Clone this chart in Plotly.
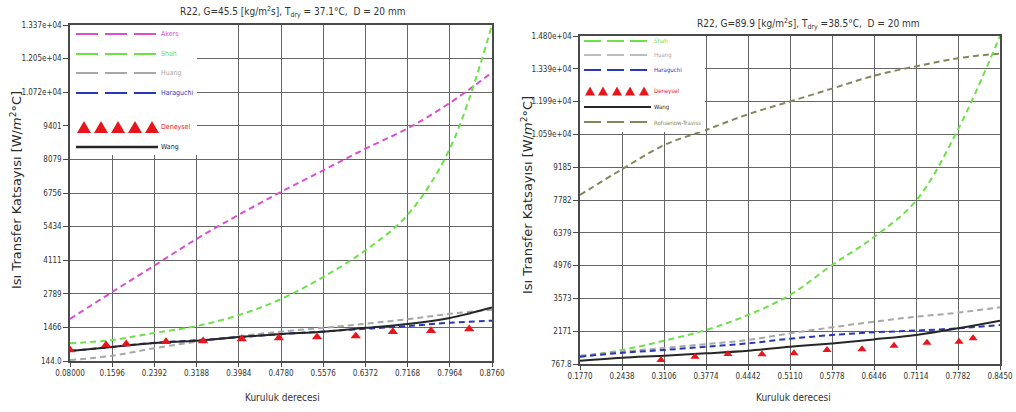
import plotly.graph_objects as go

# ---------------- Left panel: G = 45.5 ----------------
x_left = [0.08, 0.1596, 0.2392, 0.3188, 0.3984, 0.478, 0.5576, 0.6372, 0.7168, 0.7964, 0.876]
akers_left = [1800, 2860, 3900, 4950, 5900, 6800, 7650, 8500, 9300, 10300, 11500]
shah_left = [840, 970, 1250, 1520, 1950, 2580, 3450, 4500, 5900, 8500, 13370]
huang_left = [180, 350, 650, 900, 1120, 1300, 1450, 1610, 1790, 2000, 2160]
haraguchi_left = [540, 700, 860, 960, 1080, 1200, 1310, 1410, 1520, 1650, 1730]
wang_left = [540, 695, 850, 945, 1090, 1207, 1300, 1450, 1600, 1840, 2250]
exp_x_left = [0.080, 0.148, 0.186, 0.261, 0.331, 0.404, 0.474, 0.546, 0.619, 0.689, 0.761, 0.833]
exp_y_left = [577, 774, 813, 904, 930, 1010, 1049, 1088, 1128, 1300, 1337, 1403]
yticks_left = [144.0, 1466, 2789, 4111, 5434, 6756, 8079, 9401, 10720, 12050, 13370]
ytext_left = ["144.0", "1466", "2789", "4111", "5434", "6756", "8079", "9401",
              "1.072e+04", "1.205e+04", "1.337e+04"]
xtext_left = ["0.08000", "0.1596", "0.2392", "0.3188", "0.3984", "0.4780",
              "0.5576", "0.6372", "0.7168", "0.7964", "0.8760"]

# ---------------- Right panel: G = 89.9 ----------------
x_right = [0.177, 0.2438, 0.3106, 0.3774, 0.4442, 0.511, 0.5778, 0.6446, 0.7114, 0.7782, 0.845]
shah_right = [1080, 1366, 1765, 2222, 2863, 3720, 5000, 6200, 7750, 10800, 14800]
huang_right = [1123, 1300, 1450, 1620, 1794, 2080, 2337, 2577, 2790, 2962, 3193]
haraguchi_right = [1080, 1250, 1366, 1508, 1650, 1850, 2007, 2122, 2200, 2293, 2435]
wang_right = [910, 1038, 1123, 1225, 1336, 1508, 1650, 1820, 2007, 2293, 2620]
traviss_right = [8000, 9100, 10130, 10780, 11450, 12000, 12550, 13100, 13500, 13850, 14050]
exp_x_right = [0.3058, 0.3599, 0.4124, 0.4665, 0.5174, 0.5699, 0.6255, 0.6764, 0.7289, 0.7798, 0.8021]
exp_y_right = [939, 1080, 1195, 1190, 1225, 1366, 1396, 1550, 1679, 1722, 1866]
yticks_right = [767.8, 2171, 3573, 4976, 6379, 7782, 9185, 10590, 11990, 13390, 14800]
ytext_right = ["767.8", "2171", "3573", "4976", "6379", "7782", "9185",
               "1.059e+04", "1.199e+04", "1.339e+04", "1.480e+04"]
xtext_right = ["0.1770", "0.2438", "0.3106", "0.3774", "0.4442", "0.5110",
               "0.5778", "0.6446", "0.7114", "0.7782", "0.8450"]

C_AKERS = "#d94fd0"
C_SHAH = "#6ee04a"
C_HUANG = "#a8a8a8"
C_HARA = "#2a36b8"
C_WANG = "#262626"
C_EXP = "#e8161c"
C_TRAV = "#86865a"

NARROW = "DejaVu Sans Condensed, Liberation Sans Narrow, sans-serif"
W, H = 1016, 412

fig = go.Figure()


def curve(x, y, color, xa, ya, width=2.0, dash="6px,4px"):
    fig.add_trace(go.Scatter(x=x, y=y, mode="lines", xaxis=xa, yaxis=ya,
                             line=dict(color=color, width=width, dash=dash, shape="spline"),
                             showlegend=False, hoverinfo="skip"))


# left panel curves
curve(x_left, akers_left, C_AKERS, "x", "y")
curve(x_left, shah_left, C_SHAH, "x", "y")
curve(x_left, huang_left, C_HUANG, "x", "y")
curve(x_left, haraguchi_left, C_HARA, "x", "y")
curve(x_left, wang_left, C_WANG, "x", "y", dash="solid")
fig.add_trace(go.Scatter(x=exp_x_left, y=exp_y_left, mode="markers", xaxis="x", yaxis="y",
                         marker=dict(symbol="triangle-up", size=9, color=C_EXP),
                         showlegend=False, hoverinfo="skip"))

# right panel curves
curve(x_right, traviss_right, C_TRAV, "x2", "y2")
curve(x_right, shah_right, C_SHAH, "x2", "y2")
curve(x_right, huang_right, C_HUANG, "x2", "y2")
curve(x_right, haraguchi_right, C_HARA, "x2", "y2")
curve(x_right, wang_right, C_WANG, "x2", "y2", dash="solid")
fig.add_trace(go.Scatter(x=exp_x_right, y=exp_y_right, mode="markers", xaxis="x2", yaxis="y2",
                         marker=dict(symbol="triangle-up", size=8, color=C_EXP),
                         showlegend=False, hoverinfo="skip"))

# pixel boxes (x0, x1, top, bottom) of the two plot areas
L_BOX = (70, 492, 25, 361)
R_BOX = (580, 1000, 36, 364)


def xdom(b):
    return [b[0] / W, b[1] / W]


def ydom(b):
    return [1 - b[3] / H, 1 - b[2] / H]


def axis_common(ticks, text, ticklen):
    return dict(range=[ticks[0], ticks[-1]], tickmode="array", tickvals=ticks,
                ticktext=text, showgrid=True, gridcolor="#666666", gridwidth=1.4,
                zeroline=False, showline=True, linecolor="#4a4a4a", linewidth=1.5,
                mirror=True, ticks="outside", ticklen=ticklen, tickcolor="#4a4a4a",
                automargin=False, tickfont=dict(family=NARROW, size=8, color="#333"))


fig.update_layout(
    width=W, height=H, margin=dict(l=0, r=0, t=0, b=0, autoexpand=False),
    paper_bgcolor="white", plot_bgcolor="white", showlegend=False,
    xaxis=dict(axis_common(x_left, xtext_left, 4), domain=xdom(L_BOX), anchor="y"),
    yaxis=dict(axis_common(yticks_left, ytext_left, 5), domain=ydom(L_BOX), anchor="x"),
    xaxis2=dict(axis_common(x_right, xtext_right, 4), domain=xdom(R_BOX), anchor="y2"),
    yaxis2=dict(axis_common(yticks_right, ytext_right, 5), domain=ydom(R_BOX), anchor="x2"),
)

shapes = []
annotations = []


def text(x, y, s, size, color="#333", family=NARROW, xref="paper", yref="paper",
         xanchor="center", angle=0):
    annotations.append(dict(xref=xref, yref=yref, x=x, y=y, text=s, showarrow=False,
                            xanchor=xanchor, yanchor="middle", textangle=angle,
                            font=dict(family=family, size=size, color=color)))


def legend(box, xa, ya, entries, x0, x1, tx, box_w, box_h, dash, fsize, tri_xs, tri_w, tri_h):
    bx0, bx1, by0, by1 = box
    pw, ph = bx1 - bx0, by1 - by0
    dx = lambda px: (px - bx0) / pw
    dy = lambda py: (by1 - py) / ph
    xr, yr = f"{xa} domain", f"{ya} domain"
    shapes.append(dict(type="rect", xref=xr, yref=yr, x0=0, x1=dx(bx0 + box_w),
                       y0=dy(by0 + box_h), y1=1, fillcolor="white",
                       line=dict(width=0), layer="above"))
    for name, color, py, kind, lw in entries:
        if kind == "tri":
            hw = tri_w / 2
            for cx in tri_xs:
                shapes.append(dict(type="path", xref=xr, yref=yr, xsizemode="pixel",
                                   ysizemode="pixel", xanchor=dx(cx), yanchor=dy(py),
                                   path=f"M {-hw},{-tri_h / 2} L {hw},{-tri_h / 2} L 0,{tri_h / 2} Z",
                                   fillcolor=color, line=dict(width=0), layer="above"))
        else:
            shapes.append(dict(type="line", xref=xr, yref=yr, x0=dx(x0), x1=dx(x1),
                               y0=dy(py), y1=dy(py), layer="above",
                               line=dict(color=color, width=lw,
                                         dash="solid" if kind == "solid" else dash)))
        text(dx(tx), dy(py), name, fsize, color=color, xref=xr, yref=yr, xanchor="left")


legend(L_BOX, "x", "y",
       [("Akers", C_AKERS, 34, "dash", 2.2),
        ("Shah", C_SHAH, 54, "dash", 2.2),
        ("Huang", C_HUANG, 73, "dash", 1.8),
        ("Haraguchi", C_HARA, 93, "dash", 2.2),
        ("Deneysel", C_EXP, 127, "tri", 0),
        ("Wang", C_WANG, 147, "solid", 2.5)],
       x0=76, x1=158, tx=159, box_w=127, box_h=130, dash="22px,7px", fsize=7,
       tri_xs=[84, 101, 118, 135, 152], tri_w=14, tri_h=12)

legend(R_BOX, "x2", "y2",
       [("Shah", C_SHAH, 41, "dash", 2.0),
        ("Huang", C_HUANG, 55, "dash", 1.5),
        ("Haraguchi", C_HARA, 70, "dash", 2.0),
        ("Deneysel", C_EXP, 91, "tri", 0),
        ("Wang", C_WANG, 107, "solid", 2.0),
        ("Rohsenow-Traviss", C_TRAV, 122, "dash", 2.0)],
       x0=584, x1=651, tx=652, box_w=125, box_h=96, dash="17px,6px", fsize=6,
       tri_xs=[590, 603, 617, 630, 644], tri_w=10, tri_h=9)

# panel titles
text(292 / W, 1 - 12 / H,
     "R22, G=45.5 [kg/m<sup>2</sup>s], T<sub>dry</sub> = 37.1°C,  D = 20 mm", 10)
text(808 / W, 1 - 24 / H,
     "R22, G=89.9 [kg/m<sup>2</sup>s], T<sub>dry</sub> =38.5°C,  D = 20 mm", 10)

# axis titles
for xc in (282, 793):
    text(xc / W, 1 - 397 / H, "Kuruluk derecesi", 10)
ytitle = "Isı Transfer Katsayısı [W/<i>m</i><sup>2</sup>°C]"
for xc, yc in ((16, 190), (527, 195)):
    text(xc / W, 1 - yc / H, ytitle, 13, color="#2a2a2a", family="DejaVu Sans", angle=-90)

fig.update_layout(shapes=shapes, annotations=annotations)
fig.write_html("out.html")
